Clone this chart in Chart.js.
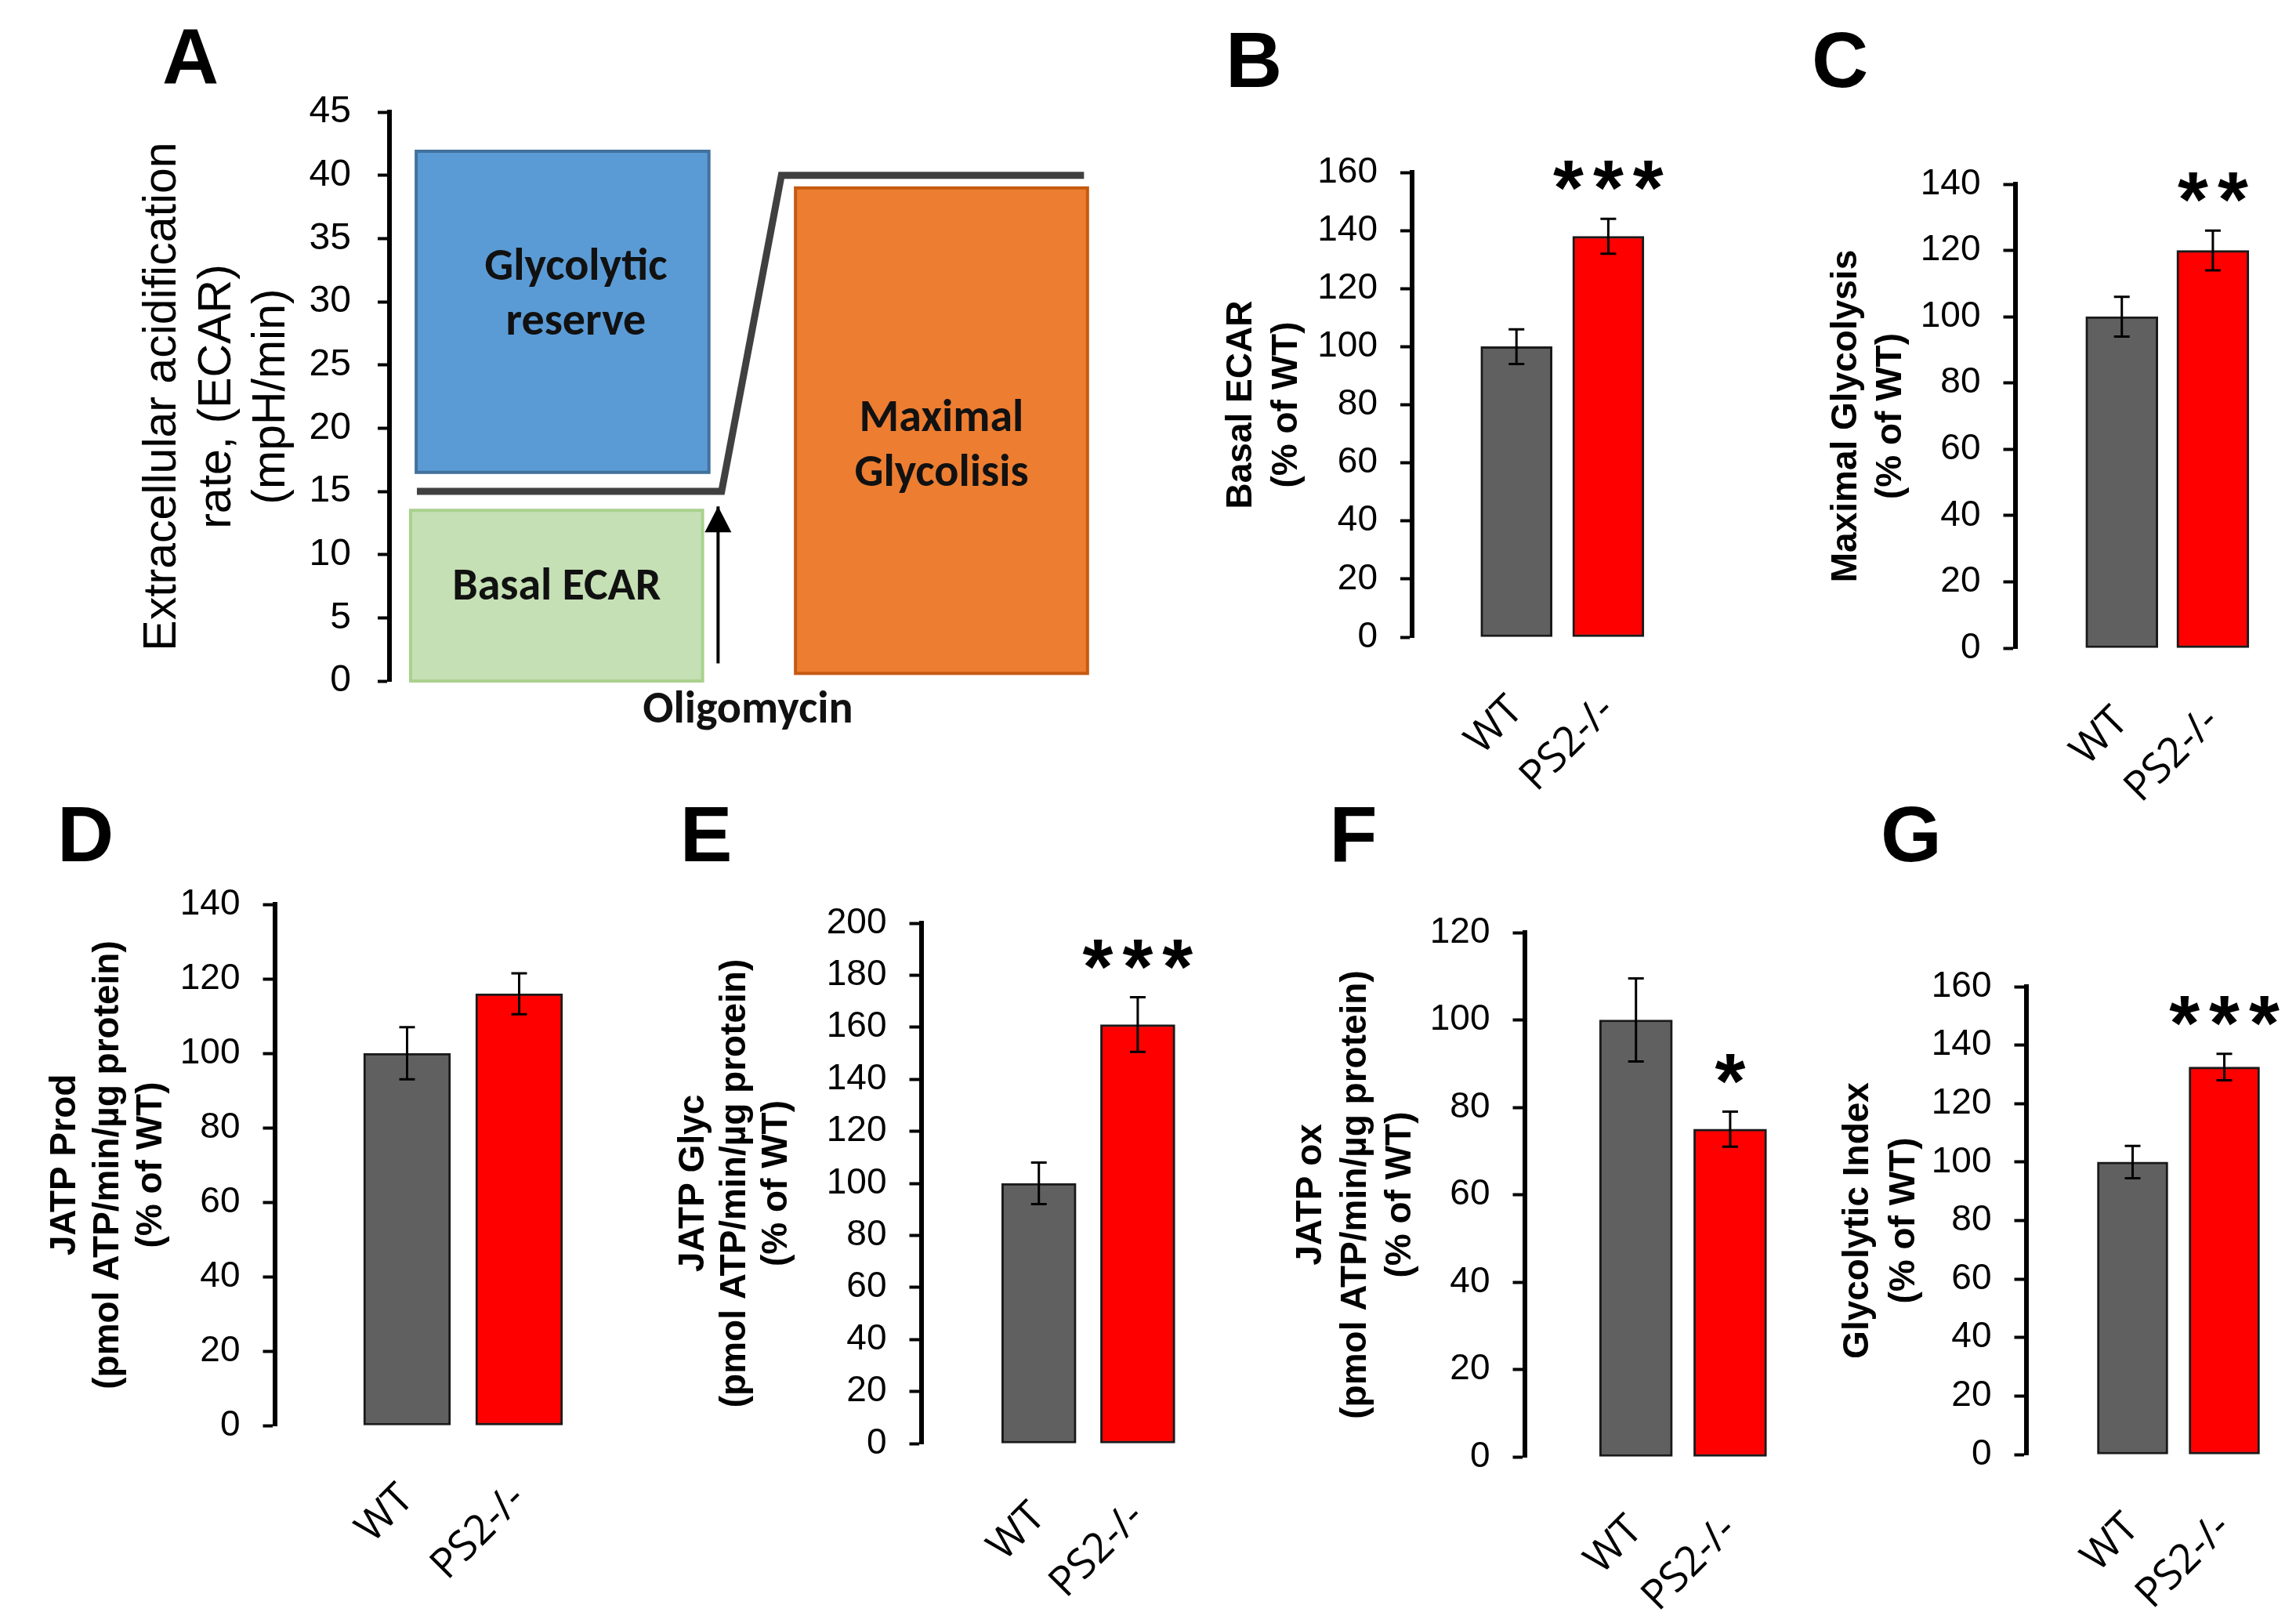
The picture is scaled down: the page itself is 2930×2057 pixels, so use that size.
<!DOCTYPE html>
<html>
<head>
<meta charset="utf-8">
<script src="https://cdn.jsdelivr.net/npm/chart.js@4.4.1/dist/chart.umd.min.js"></script>
<style>
  html, body { margin: 0; padding: 0; background: #fff; overflow: hidden; }
  #page { position: relative; width: 2930px; height: 2057px; overflow: hidden; }
  canvas { position: absolute; }
  .letter {
    position: absolute;
    font: bold 100px "Liberation Sans", Arial, sans-serif;
    line-height: 1;
    transform: translate(-50%, -50%);
  }
</style>
</head>
<body>
<div id="page">
  <div class="letter" style="left:243px;top:72px">A</div>
  <div class="letter" style="left:1600px;top:76px">B</div>
  <div class="letter" style="left:2348px;top:76px">C</div>
  <div class="letter" style="left:109px;top:1064px">D</div>
  <div class="letter" style="left:901px;top:1064px">E</div>
  <div class="letter" style="left:1727px;top:1064px">F</div>
  <div class="letter" style="left:2439px;top:1064px">G</div>
  <canvas id="chartA"></canvas>
  <canvas id="chartB"></canvas>
  <canvas id="chartC"></canvas>
  <canvas id="chartD"></canvas>
  <canvas id="chartE"></canvas>
  <canvas id="chartF"></canvas>
  <canvas id="chartG"></canvas>
</div>
<script>
// ---- panel A: ECAR trace scheme ----
const traceX = [3.9, 47.2, 55.7, 98.7];
const traceY = [15, 15, 40, 40];
const boxNames = [['Glycolytic', 'reserve'], ['Basal ECAR'], ['Maximal', 'Glycolisis']];
const boxX0 = [3.8, 3.0, 57.7];
const boxX1 = [45.4, 44.5, 99.2];
const boxY0 = [16.5, 0, 0.6];
const boxY1 = [41.9, 13.5, 39.0];
const arrowX = [46.7, 46.7];
const arrowY = [1.4, 13.8];
const arrowLabel = 'Oligomycin';

// ---- panels B-G: bars (% of WT) ----
const groups = ['WT', 'PS2-/-'];
const basalEcar = [100, 138];
const basalEcarErr = [6, 6];
const basalEcarSig = ['', '***'];
const maxGlyco = [100, 120];
const maxGlycoErr = [6, 6];
const maxGlycoSig = ['', '**'];
const jatpProd = [100, 116];
const jatpProdErr = [7, 5.5];
const jatpProdSig = ['', ''];
const jatpGlyc = [100, 161];
const jatpGlycErr = [8, 10.5];
const jatpGlycSig = ['', '***'];
const jatpOx = [100, 75];
const jatpOxErr = [9.5, 4];
const jatpOxSig = ['', '*'];
const glycoIndex = [100, 132.5];
const glycoIndexErr = [5.5, 4.5];
const glycoIndexSig = ['', '***'];

const FONT = '"Liberation Sans", Arial, sans-serif';
const NARROW = 'Carlito, "Liberation Sans Narrow", "DejaVu Sans Condensed", sans-serif';
const barColors = ['#606060', '#ff0000'];
const boxFill = ['#5b9bd5', '#c5e0b4', '#ed7d31'];
const boxEdge = ['#41719c', '#a9d18e', '#c55a11'];
const boxTextShift = [[17, -20], [0, -10], [0, 21]];
const PAD_TOP = 70;

function placeCanvas(id, left, top, width, height) {
  const c = document.getElementById(id);
  c.width = width;
  c.height = height;
  c.style.left = left + 'px';
  c.style.top = top + 'px';
  c.style.width = width + 'px';
  c.style.height = height + 'px';
  return c;
}

// error bars + significance stars on top of the bars
function errorBars(values, errors, sig) {
  return {
    id: 'errorBars',
    afterDatasetsDraw(chart) {
      const ctx = chart.ctx;
      const y = chart.scales.y;
      const meta = chart.getDatasetMeta(0);
      ctx.save();
      ctx.strokeStyle = '#000';
      ctx.lineWidth = 3;
      meta.data.forEach((bar, i) => {
        const top = y.getPixelForValue(values[i] + errors[i]);
        const bot = y.getPixelForValue(values[i] - errors[i]);
        ctx.beginPath();
        ctx.moveTo(bar.x, top); ctx.lineTo(bar.x, bot);
        ctx.moveTo(bar.x - 10, top); ctx.lineTo(bar.x + 10, top);
        ctx.moveTo(bar.x - 10, bot); ctx.lineTo(bar.x + 10, bot);
        ctx.stroke();
        if (sig[i]) {
          ctx.font = 'bold 100px ' + FONT;
          ctx.letterSpacing = '12px';
          ctx.fillStyle = '#000';
          ctx.textAlign = 'center';
          ctx.textBaseline = 'alphabetic';
          const m = ctx.measureText(sig[i]);
          const mid = (m.actualBoundingBoxAscent - m.actualBoundingBoxDescent) / 2;
          ctx.fillText(sig[i], bar.x + 6, top - 55 + mid);
        }
      });
      ctx.restore();
    }
  };
}

function barPanel(id, p, values, errors, sig) {
  const lh = p.titleLH;
  const left = p.title1X - lh / 2 - 5;
  const top = p.yTop - PAD_TOP;
  const chartRight = p.c1 + 1.5 * p.sp;
  const padRight = 90;
  const width = Math.round(chartRight + padRight - left);
  const xH = 230;
  const height = p.yBot + xH - top;
  const canvas = placeCanvas(id, left, top, width, height);
  const xMin = 1 - (p.c1 - p.axisX) / p.sp;

  new Chart(canvas, {
    type: 'bar',
    data: {
      datasets: [{
        data: values.map((v, i) => ({ x: i + 1, y: v })),
        backgroundColor: barColors,
        borderColor: '#1a1a1a',
        borderWidth: 3,
        borderSkipped: false,
        barThickness: p.bw
      }]
    },
    options: {
      responsive: false,
      animation: false,
      layout: { padding: { left: 0, top: PAD_TOP, right: padRight, bottom: 0 } },
      plugins: { legend: { display: false }, tooltip: { enabled: false } },
      scales: {
        x: {
          type: 'linear',
          min: xMin,
          max: 2.5,
          offset: false,
          grid: { display: false, offset: false },
          border: { display: false },
          afterBuildTicks: s => { s.ticks = groups.map((g, i) => ({ value: i + 1 })); },
          afterFit: s => { s.height = xH; },
          ticks: {
            autoSkip: false,
            minRotation: 45,
            maxRotation: 45,
            padding: 55,
            color: '#000',
            font: { family: '"Open Sans", sans-serif', size: 53 },
            callback: v => groups[v - 1]
          }
        },
        y: {
          min: 0,
          max: p.max,
          afterFit: s => { s.width = p.axisX - left; },
          ticks: { stepSize: 20, color: '#000', padding: 29, font: { family: FONT, size: 46 } },
          grid: { drawOnChartArea: false, tickLength: 15, tickWidth: 4, color: '#000', tickColor: '#000' },
          border: { display: true, width: 6, color: '#000' },
          title: {
            display: true,
            text: p.title,
            color: '#000',
            font: { family: FONT, size: 46, weight: 'bold', lineHeight: lh / 46 },
            padding: { top: 5, bottom: 0 }
          }
        }
      }
    },
    plugins: [errorBars(values, errors, sig)]
  });
}

// panel A boxes, arrow head and labels
const schemePlugin = {
  id: 'scheme',
  beforeDatasetsDraw(chart) {
    const { ctx, scales: { x, y } } = chart;
    ctx.save();
    boxNames.forEach((lines, i) => {
      const l = x.getPixelForValue(boxX0[i]);
      const r = x.getPixelForValue(boxX1[i]);
      const t = y.getPixelForValue(boxY1[i]);
      const b = y.getPixelForValue(boxY0[i]);
      ctx.fillStyle = boxFill[i];
      ctx.fillRect(l, t, r - l, b - t);
      ctx.strokeStyle = boxEdge[i];
      ctx.lineWidth = 4;
      ctx.strokeRect(l, t, r - l, b - t);
      ctx.fillStyle = '#111';
      ctx.font = 'bold 58px ' + NARROW;
      ctx.textAlign = 'center';
      ctx.textBaseline = 'middle';
      const cx = (l + r) / 2 + boxTextShift[i][0];
      const cy = (t + b) / 2 + boxTextShift[i][1];
      lines.forEach((txt, j) => {
        ctx.fillText(txt, cx, cy + (j - (lines.length - 1) / 2) * 70);
      });
    });
    ctx.restore();
  },
  afterDatasetsDraw(chart) {
    const { ctx, scales: { x, y } } = chart;
    const ax = x.getPixelForValue(arrowX[1]);
    const tip = y.getPixelForValue(arrowY[1]);
    ctx.save();
    ctx.fillStyle = '#000';
    ctx.beginPath();
    ctx.moveTo(ax, tip);
    ctx.lineTo(ax - 17, tip + 33);
    ctx.lineTo(ax + 17, tip + 33);
    ctx.closePath();
    ctx.fill();
    ctx.fillStyle = '#111';
    ctx.font = 'bold 58px ' + NARROW;
    ctx.textAlign = 'center';
    ctx.textBaseline = 'alphabetic';
    ctx.fillText(arrowLabel, ax + 38, y.getPixelForValue(0) + 53);
    ctx.restore();
  }
};

function schemePanel() {
  const left = 168, top = 143 - PAD_TOP;
  const canvas = placeCanvas('chartA', left, top, 1247, 960 - top);
  new Chart(canvas, {
    type: 'scatter',
    data: {
      datasets: [
        {
          data: traceX.map((v, i) => ({ x: v, y: traceY[i] })),
          showLine: true,
          borderColor: '#404040',
          borderWidth: 9,
          pointRadius: 0
        },
        {
          data: arrowX.map((v, i) => ({ x: v, y: arrowY[i] })),
          showLine: true,
          borderColor: '#000',
          borderWidth: 4,
          pointRadius: 0
        }
      ]
    },
    options: {
      responsive: false,
      animation: false,
      layout: { padding: { left: 0, top: PAD_TOP, right: 20, bottom: 91 } },
      plugins: { legend: { display: false }, tooltip: { enabled: false } },
      scales: {
        x: { type: 'linear', min: 0, max: 100, display: false },
        y: {
          min: 0,
          max: 45,
          afterFit: s => { s.width = 497 - left; },
          ticks: { stepSize: 5, color: '#000', padding: 34, font: { family: FONT, size: 48 } },
          grid: { drawOnChartArea: false, tickLength: 15, tickWidth: 4, color: '#000', tickColor: '#000' },
          border: { display: true, width: 6, color: '#000' },
          title: {
            display: true,
            text: ['Extracellular acidification', 'rate, (ECAR)', '(mpH/min)'],
            color: '#000',
            font: { family: FONT, size: 59, lineHeight: 69.5 / 59 },
            padding: { top: 5, bottom: 0 }
          }
        }
      }
    },
    plugins: [schemePlugin]
  });
}

schemePanel();
barPanel('chartB', { axisX: 1802, yTop: 220, yBot: 813, c1: 1935, sp: 117, bw: 91, title1X: 1584, titleLH: 58, max: 160,
  title: ['Basal ECAR', '(% of WT)'] }, basalEcar, basalEcarErr, basalEcarSig);
barPanel('chartC', { axisX: 2571, yTop: 235, yBot: 827, c1: 2707, sp: 116, bw: 92, title1X: 2356, titleLH: 57, max: 140,
  title: ['Maximal Glycolysis', '(% of WT)'] }, maxGlyco, maxGlycoErr, maxGlycoSig);
barPanel('chartD', { axisX: 350, yTop: 1154, yBot: 1819, c1: 519, sp: 143, bw: 111, title1X: 83, titleLH: 55, max: 140,
  title: ['JATP Prod', '(pmol ATP/min/µg protein)', '(% of WT)'] }, jatpProd, jatpProdErr, jatpProdSig);
barPanel('chartE', { axisX: 1175, yTop: 1178, yBot: 1842, c1: 1325, sp: 126, bw: 95, title1X: 885, titleLH: 53, max: 200,
  title: ['JATP Glyc', '(pmol ATP/min/µg protein)', '(% of WT)'] }, jatpGlyc, jatpGlycErr, jatpGlycSig);
barPanel('chartF', { axisX: 1945, yTop: 1190, yBot: 1859, c1: 2087, sp: 120, bw: 93, title1X: 1673, titleLH: 57, max: 120,
  title: ['JATP ox', '(pmol ATP/min/µg protein)', '(% of WT)'] }, jatpOx, jatpOxErr, jatpOxSig);
barPanel('chartG', { axisX: 2585, yTop: 1259, yBot: 1856, c1: 2721, sp: 117, bw: 90, title1X: 2371, titleLH: 59, max: 160,
  title: ['Glycolytic Index', '(% of WT)'] }, glycoIndex, glycoIndexErr, glycoIndexSig);
</script>
</body>
</html>
